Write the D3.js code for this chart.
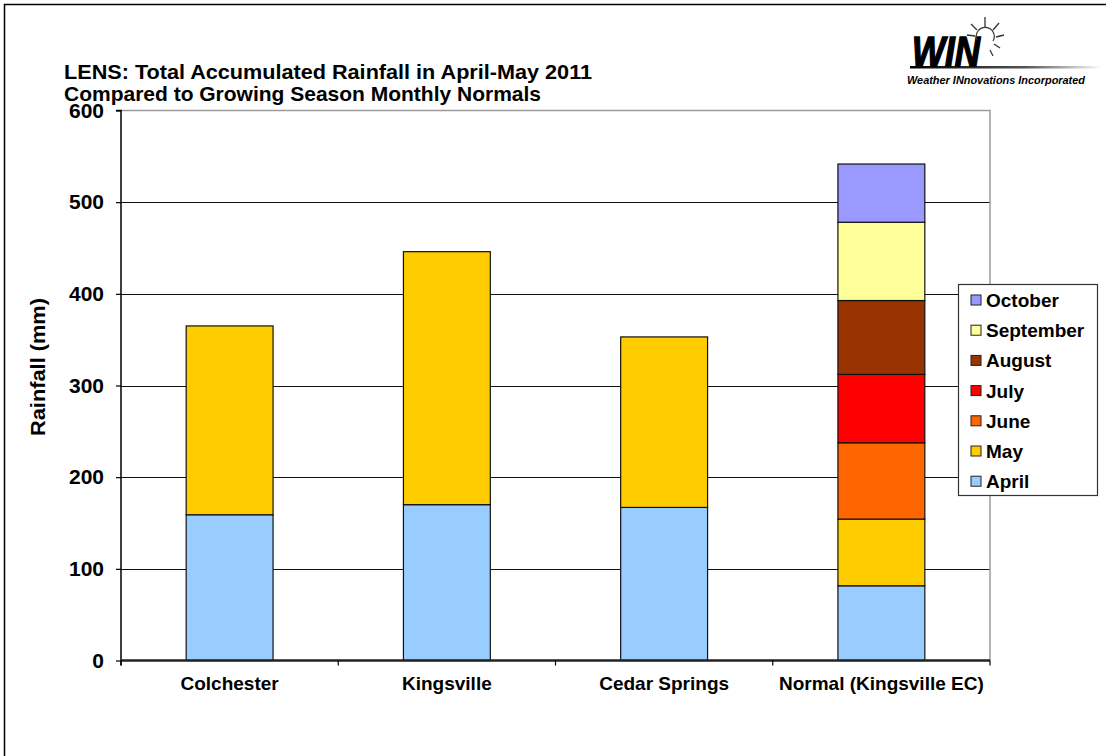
<!DOCTYPE html>
<html>
<head>
<meta charset="utf-8">
<script src="https://cdn.jsdelivr.net/npm/d3@7"></script>
<style>
  html, body { margin: 0; padding: 0; background: #fff; }
  svg { display: block; font-family: "Liberation Sans", Arial, sans-serif; }
</style>
</head>
<body>
<svg id="chart" width="1106" height="756"></svg>
<script>
// ---- data ----
const categories = ["Colchester", "Kingsville", "Cedar Springs", "Normal (Kingsville EC)"];
const months = ["April", "May", "June", "July", "August", "September", "October"];
const april     = [159, 170, 167, 81.5];
const may       = [206, 276, 186, 72.8];
const june      = [0, 0, 0, 83.2];
const july      = [0, 0, 0, 74.6];
const august    = [0, 0, 0, 80.6];
const september = [0, 0, 0, 85.4];
const october   = [0, 0, 0, 63.5];
const yTicks = [0, 100, 200, 300, 400, 500, 600];
const colors = ["#99CCFF", "#FFCC00", "#FF6600", "#FF0000", "#993300", "#FFFF99", "#9999FF"];

const seriesValues = [april, may, june, july, august, september, october];
const rows = categories.map((c, i) => {
  const r = { category: c };
  months.forEach((m, j) => { r[m] = seriesValues[j][i]; });
  return r;
});

const svg = d3.select("#chart");

// outer frame
svg.append("rect").attr("x", 4.5).attr("y", 4.5).attr("width", 1120).attr("height", 770)
  .attr("fill", "none").attr("stroke", "#000").attr("stroke-width", 1.5);

const pLeft = 121, pRight = 990, pTop = 110.5, pBottom = 660.5;

const x = d3.scaleBand().domain(categories).range([pLeft, pRight]).paddingInner(0.6).paddingOuter(0.3);
const y = d3.scaleLinear().domain([0, 600]).range([pBottom, pTop]);

// gridlines
svg.append("g").selectAll("line").data(yTicks.filter(t => t > 0 && t < 600)).join("line")
  .attr("x1", pLeft).attr("x2", pRight)
  .attr("y1", d => Math.round(y(d)) + 0.5).attr("y2", d => Math.round(y(d)) + 0.5)
  .attr("stroke", "#111").attr("stroke-width", 1.2);

// plot area border (top / right)
svg.append("path")
  .attr("d", `M${pLeft},${pTop}H${pRight}V${pBottom}`)
  .attr("fill", "none").attr("stroke", "#9a9a9a").attr("stroke-width", 1.5);

// stacked bars
const stack = d3.stack().keys(months)(rows);
const barG = svg.append("g");
stack.forEach((layer, j) => {
  barG.append("g").attr("fill", colors[j])
    .selectAll("rect").data(layer.filter(d => d[1] - d[0] > 0)).join("rect")
    .attr("x", d => x(d.data.category))
    .attr("width", x.bandwidth())
    .attr("y", d => y(d[1]))
    .attr("height", d => y(d[0]) - y(d[1]))
    .attr("stroke", "#111").attr("stroke-width", 1.2);
});

// y axis
const yAxis = d3.axisLeft(y).tickValues(yTicks).tickSize(5).tickPadding(12).tickFormat(d3.format("d"));
const yg = svg.append("g").attr("transform", `translate(${pLeft},0)`).call(yAxis);
yg.select(".domain").attr("stroke", "#000").attr("stroke-width", 1.5)
  .attr("d", `M-5,${pTop}H0V${pBottom + 5}`);
yg.selectAll(".tick line").attr("stroke", "#000").attr("stroke-width", 1.2);
yg.selectAll(".tick text").attr("font-size", 21).attr("font-weight", "bold")
  .attr("fill", "#000").attr("font-family", "Liberation Sans, Arial, sans-serif");

// x axis
const step = x.step();
const xg = svg.append("g");
xg.append("line").attr("x1", pLeft).attr("x2", pRight).attr("y1", pBottom).attr("y2", pBottom)
  .attr("stroke", "#222").attr("stroke-width", 2.5);
const tickXs = categories.map(c => x(c) - (step - x.bandwidth()) / 2).concat([pRight]);
xg.selectAll("line.tk").data(tickXs).join("line").attr("class", "tk")
  .attr("x1", d => d).attr("x2", d => d).attr("y1", pBottom).attr("y2", pBottom + 5)
  .attr("stroke", "#000").attr("stroke-width", 1.2);
xg.selectAll("text").data(categories).join("text")
  .attr("x", d => x(d) + x.bandwidth() / 2)
  .attr("y", 690)
  .attr("text-anchor", "middle")
  .attr("font-size", 19).attr("font-weight", "bold")
  .text(d => d);

// y axis title
svg.append("text")
  .attr("transform", "translate(45,367) rotate(-90)")
  .attr("text-anchor", "middle")
  .attr("font-size", 20).attr("font-weight", "bold")
  .attr("textLength", 138).attr("lengthAdjust", "spacingAndGlyphs")
  .text("Rainfall (mm)");

// title
svg.append("text").attr("x", 64).attr("y", 79)
  .attr("font-size", 21).attr("font-weight", "bold")
  .attr("textLength", 528).attr("lengthAdjust", "spacingAndGlyphs")
  .text("LENS: Total Accumulated Rainfall in April-May 2011");
svg.append("text").attr("x", 64).attr("y", 101)
  .attr("font-size", 21).attr("font-weight", "bold")
  .attr("textLength", 477).attr("lengthAdjust", "spacingAndGlyphs")
  .text("Compared to Growing Season Monthly Normals");

// legend
const lg = svg.append("g");
lg.append("rect").attr("x", 958.5).attr("y", 284.5).attr("width", 139).attr("height", 211)
  .attr("fill", "#fff").attr("stroke", "#333").attr("stroke-width", 1.2);
const legendItems = months.map((m, j) => ({ m, c: colors[j] })).reverse();
const li = lg.selectAll("g.it").data(legendItems).join("g").attr("class", "it")
  .attr("transform", (d, i) => `translate(971,${300 + i * 30.2})`);
li.append("rect").attr("x", 0).attr("y", -5).attr("width", 10).attr("height", 10)
  .attr("fill", d => d.c).attr("stroke", "#222").attr("stroke-width", 1);
li.append("text").attr("x", 15).attr("y", 7)
  .attr("font-size", 19).attr("font-weight", "bold").text(d => d.m);

// logo
const logo = svg.append("g");
const grad = svg.append("defs").append("linearGradient").attr("id", "lg1");
grad.append("stop").attr("offset", "0%").attr("stop-color", "#000");
grad.append("stop").attr("offset", "60%").attr("stop-color", "#555");
grad.append("stop").attr("offset", "100%").attr("stop-color", "#fff");
logo.append("rect").attr("x", 910).attr("y", 66).attr("width", 192).attr("height", 2.5).attr("fill", "url(#lg1)");
logo.append("text").attr("x", 912).attr("y", 66)
  .attr("font-size", 42).attr("font-weight", "bold").attr("font-style", "italic")
  .attr("stroke", "#000").attr("stroke-width", 1.5)
  .attr("textLength", 68).attr("lengthAdjust", "spacingAndGlyphs")
  .text("WIN");
logo.append("text").attr("x", 907).attr("y", 84)
  .attr("font-size", 10).attr("font-weight", "bold").attr("font-style", "italic")
  .attr("textLength", 178).attr("lengthAdjust", "spacingAndGlyphs")
  .text("Weather INnovations Incorporated");
// sun bulb
logo.append("path").attr("d", "M977,40 A9,9 0 1 1 993,41")
  .attr("fill", "none").attr("stroke", "#333").attr("stroke-width", 1.2);
const rays = [[985, 27, 985, 17], [977, 30, 971, 24], [975, 36, 967, 35], [993, 30, 999, 23], [996, 37, 1004, 35], [994, 44, 1000, 48], [990, 50, 993, 56]];
logo.selectAll("line.ray").data(rays).join("line").attr("class", "ray")
  .attr("x1", d => d[0]).attr("y1", d => d[1]).attr("x2", d => d[2]).attr("y2", d => d[3])
  .attr("stroke", "#333").attr("stroke-width", 1.3);
</script>
</body>
</html>
